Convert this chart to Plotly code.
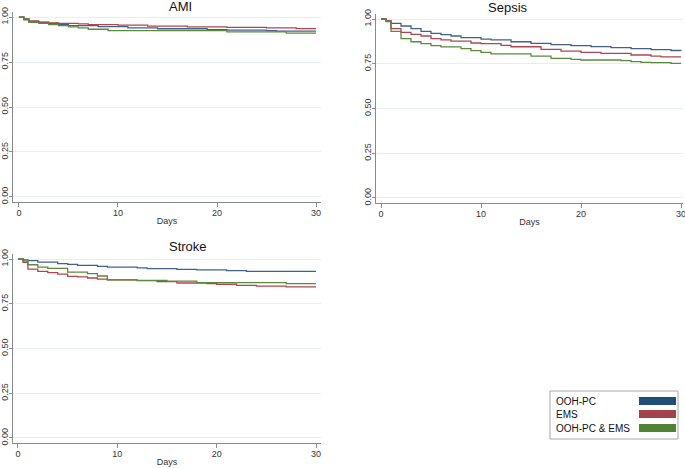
import plotly.graph_objects as go

# ---------------- data (Kaplan-Meier step curves) ----------------
series_names = ["OOH-PC", "EMS", "OOH-PC & EMS"]

ami_blue_t = [0, 0.5, 1, 2, 3, 4, 5, 8, 11, 14, 19, 21, 25, 26, 30]
ami_blue_s = [1, 0.99, 0.975, 0.97, 0.965, 0.96, 0.952, 0.947, 0.94, 0.935, 0.93, 0.927, 0.925, 0.922, 0.922]
ami_red_t = [0, 0.5, 1, 2, 3, 4, 6, 7, 10, 13, 17, 21, 25, 28, 30]
ami_red_s = [1, 0.985, 0.978, 0.972, 0.968, 0.965, 0.962, 0.958, 0.955, 0.95, 0.945, 0.942, 0.94, 0.936, 0.936]
ami_green_t = [0, 0.5, 1, 2, 3, 4, 5, 6, 7, 9, 21, 27, 30]
ami_green_s = [1, 0.99, 0.97, 0.965, 0.958, 0.952, 0.945, 0.94, 0.932, 0.925, 0.918, 0.911, 0.911]

sep_blue_t = [0, 0.5, 1, 2, 3, 4, 5, 6, 7, 8, 10, 11, 13, 15, 17, 19, 21, 23, 25, 27, 29, 30]
sep_blue_s = [1, 0.99, 0.976, 0.961, 0.946, 0.931, 0.92, 0.913, 0.905, 0.896, 0.888, 0.883, 0.873, 0.864,
              0.857, 0.851, 0.846, 0.84, 0.835, 0.829, 0.824, 0.822]
sep_red_t = [0, 0.5, 1, 2, 3, 4, 5, 6, 7, 9, 10, 12, 13, 16, 18, 20, 22, 25, 27, 28, 30]
sep_red_s = [1, 0.99, 0.946, 0.925, 0.914, 0.905, 0.89, 0.883, 0.876, 0.866, 0.862, 0.853, 0.845, 0.83,
             0.821, 0.814, 0.808, 0.799, 0.793, 0.788, 0.788]
sep_green_t = [0, 0.5, 1, 2, 3, 4, 5, 6, 8, 9, 10, 11, 15, 17, 19, 20, 24, 25, 26, 27, 29, 30]
sep_green_s = [1, 0.985, 0.931, 0.89, 0.873, 0.862, 0.851, 0.844, 0.835, 0.823, 0.814, 0.805, 0.793, 0.78,
               0.775, 0.771, 0.767, 0.762, 0.758, 0.756, 0.752, 0.752]

str_blue_t = [0, 0.5, 1, 2, 4, 5, 6, 8, 9, 12, 13, 16, 18, 21, 23, 30]
str_blue_s = [1, 0.995, 0.991, 0.983, 0.974, 0.97, 0.965, 0.959, 0.955, 0.95, 0.946, 0.942, 0.939, 0.935, 0.931, 0.931]
str_red_t = [0, 0.5, 1, 2, 3, 4, 5, 6, 7, 8, 9, 12, 14, 16, 19, 20, 22, 24, 27, 30]
str_red_s = [1, 0.982, 0.944, 0.931, 0.924, 0.916, 0.903, 0.9, 0.894, 0.888, 0.883, 0.879, 0.874, 0.866,
             0.862, 0.859, 0.853, 0.849, 0.844, 0.844]
str_green_t = [0, 0.5, 1, 2, 3, 5, 7, 8, 9, 12, 15, 18, 27, 30]
str_green_s = [1, 0.99, 0.968, 0.955, 0.948, 0.927, 0.918, 0.905, 0.883, 0.881, 0.876, 0.868, 0.862, 0.862]

panel_titles = ["AMI", "Sepsis", "Stroke"]
x_ticks = [0, 10, 20, 30]
y_ticks = [0, 0.25, 0.5, 0.75, 1]
y_tick_labels = ["0.00", "0.25", "0.50", "0.75", "1.00"]

# ---------------- styling ----------------
line_colors = ["#40618f", "#b0454f", "#5b8a3a"]
legend_colors = ["#1f4e79", "#a3414c", "#548235"]
FONT = "Liberation Sans"

panels = [
    (ami_blue_t, ami_blue_s, ami_red_t, ami_red_s, ami_green_t, ami_green_s),
    (sep_blue_t, sep_blue_s, sep_red_t, sep_red_s, sep_green_t, sep_green_s),
    (str_blue_t, str_blue_s, str_red_t, str_red_s, str_green_t, str_green_s),
]

W, H = 685, 468
# pixel boxes (left, right, top, bottom) for each plot area
boxes = [(13, 321, 12, 202), (376, 683, 14, 203), (13, 321, 254, 443)]
x_ranges = [[-0.6, 30.5], [-0.5, 30.2], [-0.5, 30.5]]
title_y = [6.5, 7.5, 246]

fig = go.Figure()
for i, p in enumerate(panels):
    ax = "" if i == 0 else str(i + 1)
    for k in range(3):
        fig.add_trace(go.Scatter(
            x=p[2 * k], y=p[2 * k + 1], mode="lines", line_shape="hv",
            line=dict(color=line_colors[k], width=1.3),
            name=series_names[k], showlegend=False, hoverinfo="skip",
            xaxis="x" + ax, yaxis="y" + ax,
        ))
    l, r, t, b = boxes[i]
    xd = [l / W, r / W]
    yd = [1 - b / H, 1 - t / H]
    axis_common = dict(showline=True, linecolor="#8a8a8a", linewidth=1, ticks="outside",
                       tickcolor="#8a8a8a", zeroline=False, automargin=False,
                       ticklabeloverflow="allow",
                       tickfont=dict(family=FONT, size=9, color="#333333"))
    fig.layout["xaxis" + ax] = dict(
        domain=xd, range=x_ranges[i], tickvals=x_ticks, showgrid=False, ticklen=4,
        anchor="y" + ax, ticklabelstandoff=-2,
        title=dict(text="Days", font=dict(family=FONT, size=9, color="#333333"), standoff=0),
        **axis_common)
    fig.layout["yaxis" + ax] = dict(
        domain=yd, range=[-0.028, 1.028], tickvals=y_ticks, ticktext=y_tick_labels,
        tickangle=-90, showgrid=True, gridcolor="#e6eef1", gridwidth=1, ticklen=3,
        ticklabelstandoff=-3,
        anchor="x" + ax, **axis_common)
    fig.add_annotation(x=(xd[0] + xd[1]) / 2, y=1 - title_y[i] / H, xref="paper", yref="paper",
                       text=panel_titles[i], showarrow=False, yanchor="middle",
                       font=dict(family=FONT, size=13, color="#111111"))

# custom legend box (bottom right)
lx0, lx1, ly0, ly1 = 550, 678, 391, 439
fig.add_shape(type="rect", xref="paper", yref="paper",
              x0=lx0 / W, x1=lx1 / W, y0=1 - ly1 / H, y1=1 - ly0 / H,
              line=dict(color="#a6a6a6", width=1), fillcolor="white")
rows_y = [401, 414, 428]
for k in range(3):
    yc = rows_y[k]
    fig.add_annotation(x=554 / W, y=1 - yc / H, xref="paper", yref="paper",
                       text=series_names[k], showarrow=False, xanchor="left", yanchor="middle",
                       font=dict(family=FONT, size=10, color="#111111"))
    fig.add_shape(type="rect", xref="paper", yref="paper",
                  x0=639 / W, x1=676 / W, y0=1 - (yc + 4) / H, y1=1 - (yc - 4) / H,
                  line=dict(width=0), fillcolor=legend_colors[k])

fig.update_layout(width=W, height=H, margin=dict(l=0, r=0, t=0, b=0),
                  paper_bgcolor="white", plot_bgcolor="white", showlegend=False,
                  hovermode=False)

fig.write_html("out.html", config={"displayModeBar": False},
               post_script="document.body.style.margin='0';document.body.style.padding='0';")
